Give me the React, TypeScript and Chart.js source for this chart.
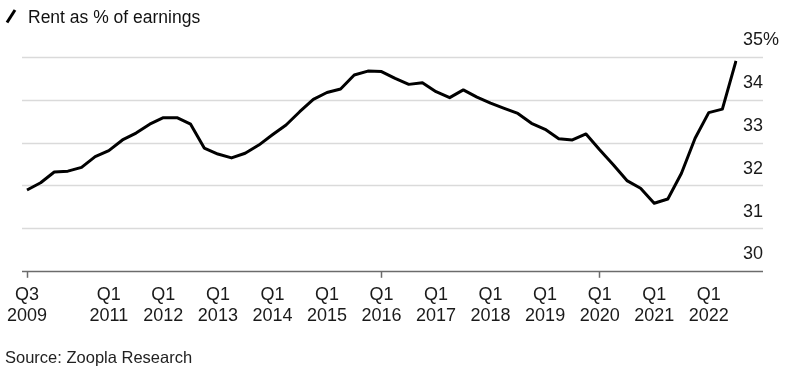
import React, { useEffect, useRef } from 'react';
import { Chart, registerables } from 'chart.js';

Chart.register(...registerables);

const quarters = [
  'Q3 2009', 'Q4 2009',
  'Q1 2010', 'Q2 2010', 'Q3 2010', 'Q4 2010',
  'Q1 2011', 'Q2 2011', 'Q3 2011', 'Q4 2011',
  'Q1 2012', 'Q2 2012', 'Q3 2012', 'Q4 2012',
  'Q1 2013', 'Q2 2013', 'Q3 2013', 'Q4 2013',
  'Q1 2014', 'Q2 2014', 'Q3 2014', 'Q4 2014',
  'Q1 2015', 'Q2 2015', 'Q3 2015', 'Q4 2015',
  'Q1 2016', 'Q2 2016', 'Q3 2016', 'Q4 2016',
  'Q1 2017', 'Q2 2017', 'Q3 2017', 'Q4 2017',
  'Q1 2018', 'Q2 2018', 'Q3 2018', 'Q4 2018',
  'Q1 2019', 'Q2 2019', 'Q3 2019', 'Q4 2019',
  'Q1 2020', 'Q2 2020', 'Q3 2020', 'Q4 2020',
  'Q1 2021', 'Q2 2021', 'Q3 2021', 'Q4 2021',
  'Q1 2022', 'Q2 2022', 'Q3 2022',
];

const rentShare = [
  31.89, 32.06,
  32.31, 32.33, 32.42, 32.67,
  32.81, 33.06, 33.22, 33.43,
  33.58, 33.58, 33.43, 32.87,
  32.73, 32.64, 32.75, 32.94,
  33.18, 33.41, 33.72, 34.01,
  34.17, 34.25, 34.58, 34.67,
  34.66, 34.50, 34.36, 34.40,
  34.19, 34.05, 34.23, 34.06,
  33.92, 33.80, 33.68, 33.45,
  33.31, 33.09, 33.06, 33.20,
  32.83, 32.48, 32.11, 31.93,
  31.58, 31.68, 32.28, 33.10,
  33.70, 33.78, 34.91,
];

const shownTicks = [
  'Q3 2009', 'Q1 2011', 'Q1 2012', 'Q1 2013', 'Q1 2014', 'Q1 2015', 'Q1 2016',
  'Q1 2017', 'Q1 2018', 'Q1 2019', 'Q1 2020', 'Q1 2021', 'Q1 2022',
];

const yMin = 30;
const yMax = 35;
const yStep = 1;

const FONT = "'Liberation Sans', Arial, Helvetica, sans-serif";

const gridPlugin = {
  id: 'bbgGrid',
  beforeDatasetsDraw(chart: any) {
    const { ctx, chartArea } = chart;
    const y = chart.scales.y;
    const x0 = chartArea.left - 5;
    const x1 = chartArea.right + 27;
    ctx.save();
    y.ticks.forEach((t: any) => {
      if (t.value === yMin) return;
      const py = Math.round(y.getPixelForValue(t.value)) + 0.5;
      ctx.strokeStyle = '#dadada';
      ctx.lineWidth = 1.5;
      ctx.beginPath();
      ctx.moveTo(x0, py);
      ctx.lineTo(x1, py);
      ctx.stroke();
    });
    const pb = Math.round(y.getPixelForValue(yMin)) + 0.5;
    ctx.strokeStyle = '#6b6b6b';
    ctx.lineWidth = 1.5;
    ctx.beginPath();
    ctx.moveTo(x0, pb);
    ctx.lineTo(x1, pb);
    ctx.stroke();
    ctx.restore();
  },
};

export default function App() {
  const canvasRef = useRef<HTMLCanvasElement | null>(null);

  useEffect(() => {
    document.body.style.margin = '0';
    const canvas = canvasRef.current;
    if (!canvas) return;
    const isShown = (i: number) => shownTicks.indexOf(quarters[i]) >= 0;
    const chart = new Chart(canvas, {
      type: 'line',
      data: {
        labels: quarters,
        datasets: [
          {
            label: 'Rent as % of earnings',
            data: rentShare,
            borderColor: '#000000',
            borderWidth: 3,
            pointRadius: 0,
            tension: 0,
            borderJoinStyle: 'round',
            fill: false,
          },
        ],
      },
      options: {
        animation: false,
        responsive: false,
        devicePixelRatio: 1,
        layout: { padding: { top: 57, left: 27, right: 0, bottom: 44 } },
        plugins: {
          legend: { display: false },
          tooltip: { enabled: false },
          title: { display: false },
        },
        scales: {
          x: {
            type: 'category',
            offset: false,
            border: { display: false },
            grid: {
              display: true,
              drawOnChartArea: false,
              drawTicks: true,
              tickLength: 7,
              tickWidth: 1.5,
              tickColor: (ctx: any) => (isShown(ctx.index) ? '#6b6b6b' : 'rgba(0,0,0,0)'),
            },
            ticks: {
              autoSkip: false,
              maxRotation: 0,
              minRotation: 0,
              padding: 6,
              color: '#1a1a1a',
              font: { family: FONT, size: 18, lineHeight: 1.2 },
              callback: (_v: any, i: number) => (isShown(i) ? quarters[i].split(' ') : null),
            },
          },
          y: {
            position: 'right',
            min: yMin,
            max: yMax,
            border: { display: false },
            grid: { display: false, drawTicks: false },
            afterFit: (scale: any) => {
              scale.width = 50;
            },
            ticks: {
              stepSize: yStep,
              padding: 7,
              labelOffset: -16.5,
              color: '#1a1a1a',
              font: { family: FONT, size: 18 },
              callback: (v: any) => (v === yMax ? v + '%' : String(v)),
            },
          },
        },
      },
      plugins: [gridPlugin],
    } as any);
    return () => chart.destroy();
  }, []);

  return (
    <div style={{ position: 'relative', width: 786, height: 377, background: '#ffffff', overflow: 'hidden' }}>
      <canvas
        ref={canvasRef}
        width={786}
        height={377}
        style={{ position: 'absolute', left: 0, top: 0, width: 786, height: 377 }}
      />
      <svg
        width={20}
        height={26}
        style={{ position: 'absolute', left: 0, top: 0 }}
      >
        <line x1={7} y1={22.5} x2={15} y2={10} stroke="#000" strokeWidth={3} strokeLinecap="butt" />
      </svg>
      <div
        style={{
          position: 'absolute',
          left: 28,
          top: 8.5,
          fontFamily: FONT,
          fontSize: 17.5,
          lineHeight: '17.5px',
          color: '#111',
          whiteSpace: 'nowrap',
        }}
      >
        Rent as % of earnings
      </div>
      <div
        style={{
          position: 'absolute',
          left: 5,
          top: 349,
          fontFamily: FONT,
          fontSize: 16.5,
          lineHeight: '16.5px',
          color: '#222',
          whiteSpace: 'nowrap',
        }}
      >
        Source: Zoopla Research
      </div>
    </div>
  );
}
